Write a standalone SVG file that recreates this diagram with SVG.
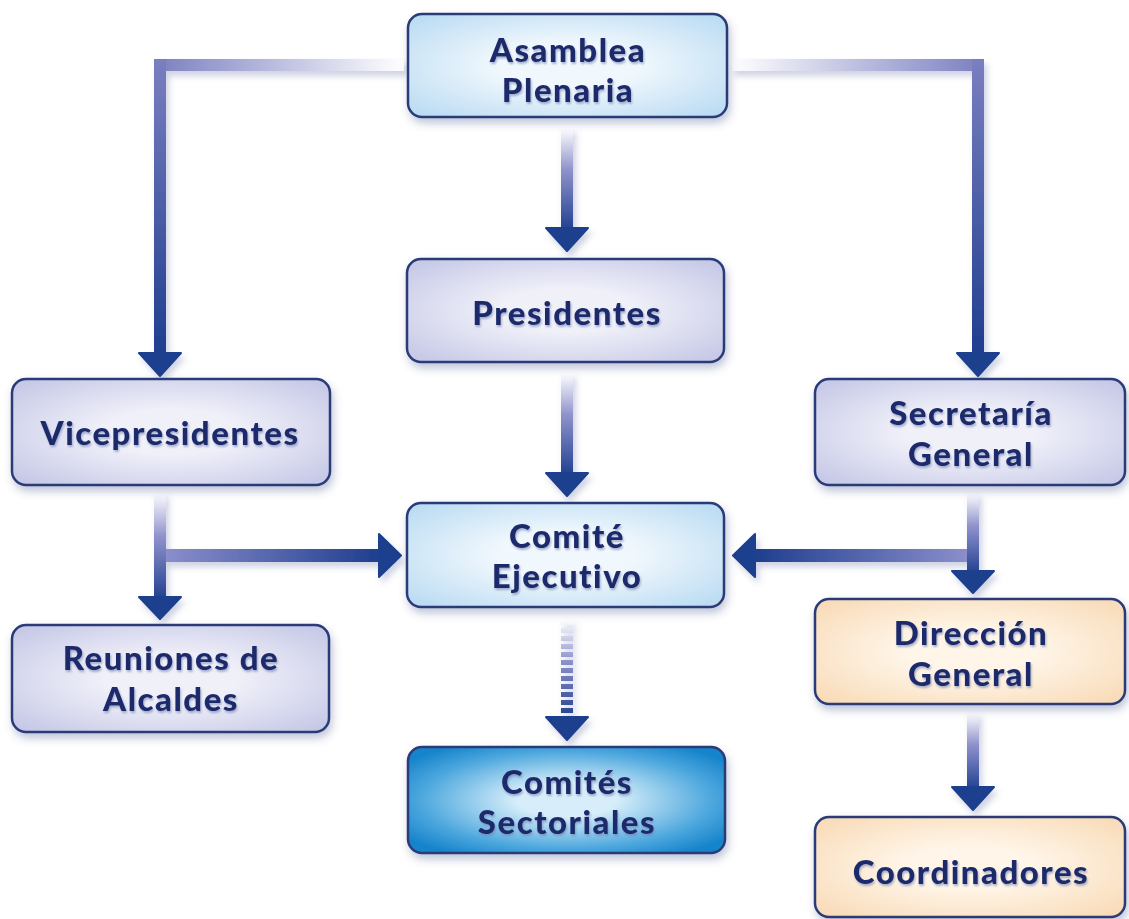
<svg xmlns="http://www.w3.org/2000/svg" width="1129" height="919" viewBox="0 0 1129 919">
<style>
.box{stroke:#2a3a78;stroke-width:2.5}
.lbl{font-family:Lato,"Open Sans","Liberation Sans",sans-serif;font-weight:900;font-size:33px;letter-spacing:1.5px;fill:#1e2c6c;text-anchor:middle;filter:url(#ts)}
.ah{fill:#1b3f8e;stroke:#1b3f8e;stroke-width:2;stroke-linejoin:round}
</style>
<defs>
<filter id="sh" x="-10%" y="-20%" width="120%" height="150%"><feDropShadow dx="2" dy="5" stdDeviation="4" flood-color="#4a5a90" flood-opacity="0.35"/></filter>
<filter id="lsh" x="-20%" y="-20%" width="140%" height="140%"><feDropShadow dx="3" dy="5" stdDeviation="3" flood-color="#6070a0" flood-opacity="0.3"/></filter>
<filter id="ts" x="-5%" y="-20%" width="110%" height="150%"><feDropShadow dx="1" dy="2" stdDeviation="1" flood-color="#7080b0" flood-opacity="0.6"/></filter>
<radialGradient id="gLav" cx="0.5" cy="0.5" r="0.7"><stop offset="0.3" stop-color="#f0f0f9"/><stop offset="1" stop-color="#c2c5e5"/></radialGradient>
<radialGradient id="gBlue" cx="0.5" cy="0.5" r="0.7"><stop offset="0.3" stop-color="#f1f8fd"/><stop offset="1" stop-color="#b6d9f2"/></radialGradient>
<radialGradient id="gPeach" cx="0.5" cy="0.5" r="0.7"><stop offset="0.3" stop-color="#fff5e8"/><stop offset="1" stop-color="#f8d9b4"/></radialGradient>
<radialGradient id="gCyan" cx="0.5" cy="0.5" r="0.62"><stop offset="0.25" stop-color="#d7eefa"/><stop offset="0.75" stop-color="#4aa6dd"/><stop offset="1" stop-color="#1784cb"/></radialGradient>
<linearGradient id="hL" x1="1" y1="0" x2="0" y2="0"><stop offset="0" stop-color="#ffffff"/><stop offset="1" stop-color="#7a7fc0"/></linearGradient>
<linearGradient id="hR" x1="0" y1="0" x2="1" y2="0"><stop offset="0" stop-color="#ffffff"/><stop offset="1" stop-color="#7a7fc0"/></linearGradient>
<linearGradient id="vP" x1="0" y1="0" x2="0" y2="1"><stop offset="0" stop-color="#7a7fc0"/><stop offset="1" stop-color="#1e3d8e"/></linearGradient>
<linearGradient id="vW" x1="0" y1="0" x2="0" y2="1"><stop offset="0" stop-color="#ffffff"/><stop offset="0.4" stop-color="#8f93cc"/><stop offset="1" stop-color="#1e3d8e"/></linearGradient>
<linearGradient id="hToR" x1="0" y1="0" x2="1" y2="0"><stop offset="0" stop-color="#8a8ecb"/><stop offset="1" stop-color="#1e3d8e"/></linearGradient>
<linearGradient id="hToL" x1="1" y1="0" x2="0" y2="0"><stop offset="0" stop-color="#8a8ecb"/><stop offset="1" stop-color="#1e3d8e"/></linearGradient>
<pattern id="dashW" x="0" y="620" width="24" height="8" patternUnits="userSpaceOnUse"><rect x="0" y="0" width="24" height="5" fill="#fff"/></pattern>
<mask id="dm"><rect x="555" y="618" width="24" height="105" fill="url(#dashW)"/></mask>
</defs>

<g id="connectors">
<g filter="url(#lsh)">
<rect x="154" y="59" width="250" height="12" fill="url(#hL)"/>
<rect x="154" y="59" width="12" height="298" fill="url(#vP)"/>
<polygon class="ah" points="139,353 181,353 160,376"/>
<rect x="732" y="59" width="252" height="12" fill="url(#hR)"/>
<rect x="972" y="59" width="12" height="298" fill="url(#vP)"/>
<polygon class="ah" points="957,353 999,353 978,376"/>
<rect x="561" y="128" width="12" height="104" fill="url(#vW)"/>
<polygon class="ah" points="546,228 588,228 567,251"/>
<rect x="561" y="373" width="12" height="104" fill="url(#vW)"/>
<polygon class="ah" points="546,473 588,473 567,496"/>
<rect x="154" y="493" width="12" height="108" fill="url(#vW)"/>
<polygon class="ah" points="139,597 181,597 160,619"/>
<rect x="166" y="549" width="216" height="13" fill="url(#hToR)"/>
<polygon class="ah" points="379,534 379,577 401,555.5"/>
<rect x="967" y="493" width="12" height="82" fill="url(#vW)"/>
<polygon class="ah" points="952,571 994,571 973,593"/>
<rect x="752" y="549" width="215" height="13" fill="url(#hToL)"/>
<polygon class="ah" points="755,534 755,577 733,555.5"/>
<rect x="561" y="620" width="12" height="100" fill="url(#vW)" mask="url(#dm)"/>
<polygon class="ah" points="546,717 588,717 567,740"/>
<rect x="967" y="713" width="12" height="78" fill="url(#vW)"/>
<polygon class="ah" points="952,787 994,787 973,810"/>
</g>
</g>

<g id="asamblea" filter="url(#sh)">
<rect class="box" x="408" y="14" width="319" height="103" rx="14" fill="url(#gBlue)"/>
<text class="lbl" x="568" y="62">Asamblea</text>
<text class="lbl" x="568" y="102">Plenaria</text>
</g>
<g id="presidentes" filter="url(#sh)">
<rect class="box" x="407" y="259" width="317" height="103" rx="14" fill="url(#gLav)"/>
<text class="lbl" x="567" y="325">Presidentes</text>
</g>
<g id="vicepresidentes" filter="url(#sh)">
<rect class="box" x="12" y="379" width="318" height="106" rx="14" fill="url(#gLav)"/>
<text class="lbl" x="170" y="445">Vicepresidentes</text>
</g>
<g id="secretaria" filter="url(#sh)">
<rect class="box" x="815" y="379" width="310" height="106" rx="14" fill="url(#gLav)"/>
<text class="lbl" x="971" y="425">Secretaría</text>
<text class="lbl" x="971" y="466">General</text>
</g>
<g id="comite" filter="url(#sh)">
<rect class="box" x="407" y="503" width="317" height="104" rx="14" fill="url(#gBlue)"/>
<text class="lbl" x="567" y="548">Comité</text>
<text class="lbl" x="567" y="588">Ejecutivo</text>
</g>
<g id="reuniones" filter="url(#sh)">
<rect class="box" x="12" y="625" width="317" height="107" rx="14" fill="url(#gLav)"/>
<text class="lbl" x="171" y="670">Reuniones de</text>
<text class="lbl" x="171" y="711">Alcaldes</text>
</g>
<g id="direccion" filter="url(#sh)">
<rect class="box" x="815" y="599" width="310" height="105" rx="14" fill="url(#gPeach)"/>
<text class="lbl" x="971" y="645">Dirección</text>
<text class="lbl" x="971" y="686">General</text>
</g>
<g id="sectoriales" filter="url(#sh)">
<rect class="box" x="408" y="747" width="317" height="106" rx="14" fill="url(#gCyan)"/>
<text class="lbl" x="567" y="794">Comités</text>
<text class="lbl" x="567" y="834">Sectoriales</text>
</g>
<g id="coordinadores" filter="url(#sh)">
<rect class="box" x="815" y="817" width="310" height="100" rx="14" fill="url(#gPeach)"/>
<text class="lbl" x="971" y="884">Coordinadores</text>
</g>
</svg>
